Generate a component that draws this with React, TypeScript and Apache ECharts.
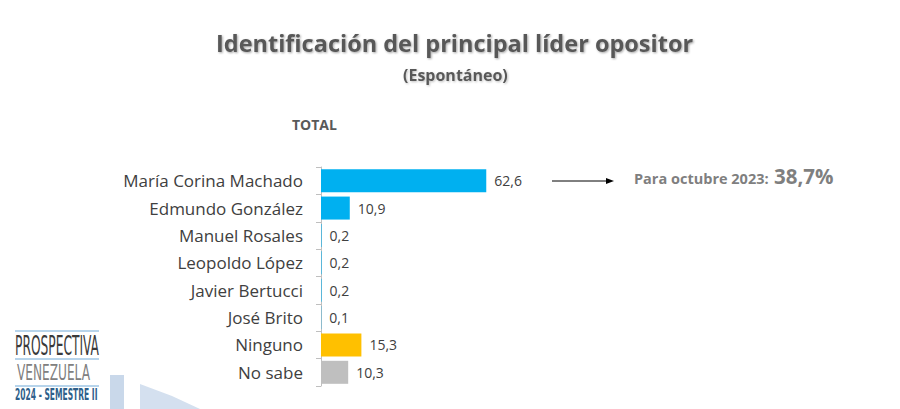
import React, { useEffect, useRef } from "react";
import * as echarts from "echarts";

const categories = [
  "María Corina Machado",
  "Edmundo González",
  "Manuel Rosales",
  "Leopoldo López",
  "Javier Bertucci",
  "José Brito",
  "Ninguno",
  "No sabe",
];
const values = [62.6, 10.9, 0.2, 0.2, 0.2, 0.1, 15.3, 10.3];
const barColors = ["#00b0f0", "#00b0f0", "#00b0f0", "#00b0f0", "#00b0f0", "#00b0f0", "#ffc000", "#bfbfbf"];

const titleText = "Identificación del principal líder opositor";
const subtitleText = "(Espontáneo)";
const totalText = "TOTAL";
const noteLabel = "Para octubre 2023:";
const noteValue = "38,7%";

export default function App() {
  const ref = useRef<HTMLDivElement>(null);
  useEffect(() => {
    if (!ref.current) return;
    const chart = echarts.init(ref.current, null, { renderer: "svg" });
    const font = "'Open Sans', 'Noto Sans', sans-serif";
    const cond = "'DejaVu Sans Condensed', 'Liberation Sans Narrow', sans-serif";
    chart.setOption({
      animation: false,
      backgroundColor: "#ffffff",
      grid: { left: 321, top: 167, width: 264, height: 219, containLabel: false },
      xAxis: {
        type: "value",
        min: 0,
        max: 100,
        show: false,
      },
      yAxis: {
        type: "category",
        data: categories,
        inverse: true,
        axisLine: { show: true, lineStyle: { color: "#bfbfbf", width: 1 } },
        axisTick: { show: true, length: 5, lineStyle: { color: "#bfbfbf" } },
        axisLabel: {
          color: "#404040",
          fontSize: 17,
          fontFamily: font,
          margin: 18,
        },
        splitLine: { show: false },
      },
      series: [
        {
          type: "bar",
          data: values.map((v, i) => ({ value: v, itemStyle: { color: barColors[i] } })),
          barWidth: 23,
          label: {
            show: true,
            position: "right",
            distance: 8,
            color: "#404040",
            fontSize: 14,
            fontFamily: font,
            formatter: (p: any) => String(p.value).replace(".", ","),
          },
        },
      ],
      graphic: [
        {
          type: "text",
          left: 216,
          top: 31,
          style: {
            text: titleText,
            font: `bold 23.5px ${font}`,
            fill: "#595959",
            textShadowColor: "rgba(0,0,0,0.35)",
            textShadowBlur: 2,
            textShadowOffsetX: 1,
            textShadowOffsetY: 1,
          },
        },
        {
          type: "text",
          left: 403,
          top: 67,
          style: {
            text: subtitleText,
            font: `bold 16px ${font}`,
            fill: "#595959",
            textShadowColor: "rgba(0,0,0,0.25)",
            textShadowBlur: 2,
            textShadowOffsetX: 1,
            textShadowOffsetY: 1,
          },
        },
        {
          type: "text",
          left: 292,
          top: 117,
          style: { text: totalText, font: `bold 14px ${font}`, fill: "#595959" },
        },
        {
          type: "line",
          shape: { x1: 552, y1: 181, x2: 608, y2: 181 },
          style: { stroke: "#000000", lineWidth: 1 },
        },
        {
          type: "polygon",
          shape: { points: [[606, 178], [614, 181], [606, 184]] },
          style: { fill: "#000000" },
        },
        {
          type: "text",
          left: 634,
          top: 171,
          style: { text: noteLabel, font: `bold 14.5px ${font}`, fill: "#7f7f7f" },
        },
        {
          type: "text",
          left: 774,
          top: 165,
          style: { text: noteValue, font: `bold 20.5px ${font}`, fill: "#7f7f7f" },
        },
        // background decorative shapes
        {
          type: "rect",
          shape: { x: 110, y: 375, width: 14, height: 40 },
          style: { fill: "#c9d8ea" },
          z: -1,
        },
        {
          type: "polygon",
          shape: { points: [[140, 384], [172, 396], [200, 409], [140, 409]] },
          style: { fill: "#d4e0ef" },
          z: -1,
        },
        // logo
        {
          type: "line",
          shape: { x1: 15, y1: 331, x2: 99, y2: 331 },
          style: { stroke: "#9fc6e4", lineWidth: 1.5 },
        },
        {
          type: "text",
          x: 15,
          y: 332,
          scaleX: 0.85,
          scaleY: 1.7,
          style: { text: "PROSPECTIVA", font: `16px ${cond}`, fill: "#3a3a3a" },
        },
        {
          type: "line",
          shape: { x1: 15, y1: 359, x2: 99, y2: 359 },
          style: { stroke: "#9fc6e4", lineWidth: 1.5 },
        },
        {
          type: "text",
          x: 17,
          y: 361,
          scaleX: 0.9,
          scaleY: 1.45,
          style: { text: "VENEZUELA", font: `15px ${cond}`, fill: "#808080" },
        },
        {
          type: "line",
          shape: { x1: 15, y1: 386, x2: 99, y2: 386 },
          style: { stroke: "#9fc6e4", lineWidth: 1.5 },
        },
        {
          type: "text",
          x: 15,
          y: 388,
          scaleX: 0.84,
          scaleY: 1.5,
          style: { text: "2024 - SEMESTRE II", font: `bold 10px ${cond}`, fill: "#2e5f8a" },
        },
      ],
    });
    return () => chart.dispose();
  }, []);
  return <div ref={ref} style={{ width: 900, height: 409, position: "absolute", left: 0, top: 0 }} />;
}
